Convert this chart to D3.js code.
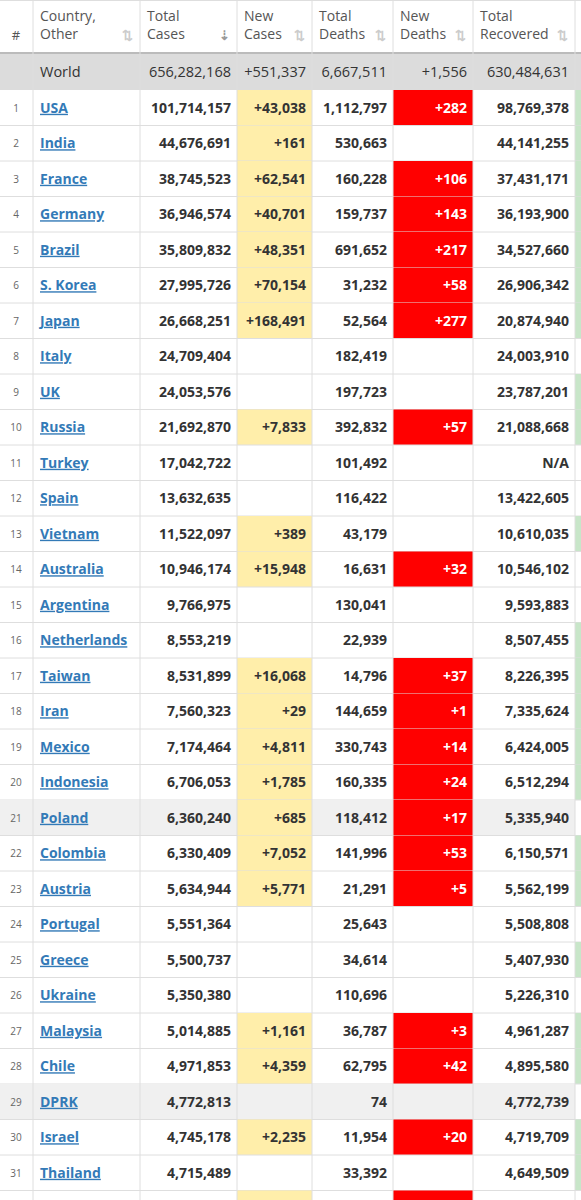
<!DOCTYPE html>
<html><head><meta charset="utf-8">
<script src="https://cdn.jsdelivr.net/npm/d3@7"></script>
<style>body{margin:0;background:#fff;}svg{display:block;font-family:"Open Sans",sans-serif;}</style>
</head><body><svg id="c" width="581" height="1200"></svg>
<script>
const headers=[["#"],["Country,","Other"],["Total","Cases"],["New","Cases"],["Total","Deaths"],["New","Deaths"],["Total","Recovered"],[""]];
const world=["","World","656,282,168","+551,337","6,667,511","+1,556","630,484,631"];
const countries=["USA","India","France","Germany","Brazil","S. Korea","Japan","Italy","UK","Russia","Turkey","Spain","Vietnam","Australia","Argentina","Netherlands","Taiwan","Iran","Mexico","Indonesia","Poland","Colombia","Austria","Portugal","Greece","Ukraine","Malaysia","Chile","DPRK","Israel","Thailand",""];
const totalCases=["101,714,157","44,676,691","38,745,523","36,946,574","35,809,832","27,995,726","26,668,251","24,709,404","24,053,576","21,692,870","17,042,722","13,632,635","11,522,097","10,946,174","9,766,975","8,553,219","8,531,899","7,560,323","7,174,464","6,706,053","6,360,240","6,330,409","5,634,944","5,551,364","5,500,737","5,350,380","5,014,885","4,971,853","4,772,813","4,745,178","4,715,489",""];
const newCases=["+43,038","+161","+62,541","+40,701","+48,351","+70,154","+168,491","","","+7,833","","","+389","+15,948","","","+16,068","+29","+4,811","+1,785","+685","+7,052","+5,771","","","","+1,161","+4,359","","+2,235","","+"];
const totalDeaths=["1,112,797","530,663","160,228","159,737","691,652","31,232","52,564","182,419","197,723","392,832","101,492","116,422","43,179","16,631","130,041","22,939","14,796","144,659","330,743","160,335","118,412","141,996","21,291","25,643","34,614","110,696","36,787","62,795","74","11,954","33,392",""];
const newDeaths=["+282","","+106","+143","+217","+58","+277","","","+57","","","","+32","","","+37","+1","+14","+24","+17","+53","+5","","","","+3","+42","","+20","","+"];
const totalRecovered=["98,769,378","44,141,255","37,431,171","36,193,900","34,527,660","26,906,342","20,874,940","24,003,910","23,787,201","21,088,668","N/A","13,422,605","10,610,035","10,546,102","9,593,883","8,507,455","8,226,395","7,335,624","6,424,005","6,512,294","5,335,940","6,150,571","5,562,199","5,508,808","5,407,930","5,226,310","4,961,287","4,895,580","4,772,739","4,719,709","4,649,509",""];
const newRecovered=[1,1,1,1,1,1,1,0,1,1,0,0,1,0,0,1,1,1,1,1,0,1,1,0,1,0,1,1,0,1,1,0];
const greyRows=["Poland","DPRK"];

const colEdges=[0,33,140,237,312,393,473,575,581];
const svg=d3.select("#c");
const headH=53, worldH=37, rowH=35.5;
const y=i=>headH+worldH+i*rowH;
const bcol="#dedede";

headers.forEach((h,j)=>{
  const x0=colEdges[j],x1=colEdges[j+1];
  if(j>0&&j<7){
    h.forEach((t,k)=>svg.append("text").attr("x",x0+7).attr("y",21+k*18).attr("font-size",14).attr("fill","#555").text(t));
    svg.append("text").attr("x",x1-7).attr("y",40).attr("text-anchor","end").attr("font-size",13).attr("fill",j==2?"#999":"#ccc").attr("font-weight","bold").text(j==2?"⇣":"⇅");
  } else if(j==0){
    svg.append("text").attr("x",16).attr("y",40).attr("text-anchor","middle").attr("font-size",13).attr("fill","#555").text("#");
  }
});
svg.append("rect").attr("x",0).attr("y",headH).attr("width",581).attr("height",worldH).attr("fill","#dcdcdc");
svg.append("line").attr("x1",0).attr("x2",581).attr("y1",headH).attr("y2",headH).attr("stroke","#bbb").attr("stroke-width",2);
world.forEach((t,j)=>{
  if(!t)return;
  const x0=colEdges[j],x1=colEdges[j+1];
  svg.append("text").attr("x",j==1?x0+7:x1-6).attr("y",headH+worldH/2+5).attr("text-anchor",j==1?"start":"end").attr("font-size",14.5).attr("fill","#333").text(t);
});
countries.forEach((c,i)=>{
  const y0=y(i);
  if(greyRows.includes(c))svg.append("rect").attr("x",0).attr("y",y0).attr("width",575).attr("height",rowH).attr("fill","#f0f0f0");
  if(newCases[i])svg.append("rect").attr("x",colEdges[3]).attr("y",y0).attr("width",colEdges[4]-colEdges[3]).attr("height",rowH).attr("fill","#ffeeaa");
  if(newDeaths[i])svg.append("rect").attr("x",colEdges[5]).attr("y",y0).attr("width",colEdges[6]-colEdges[5]).attr("height",rowH).attr("fill","#ff0000");
  if(newRecovered[i])svg.append("rect").attr("x",575).attr("y",y0).attr("width",6).attr("height",rowH).attr("fill","#c8e6c9");
  const ty=y0+rowH/2+5;
  if(c){
    svg.append("text").attr("x",16).attr("y",ty-1).attr("text-anchor","middle").attr("font-size",10).attr("fill","#666").text(i+1);
    svg.append("text").attr("x",40).attr("y",ty).attr("font-size",14).attr("font-weight","bold").attr("fill","#337ab7").attr("text-decoration","underline").text(c);
  }
  const vals=[totalCases[i],newCases[i],totalDeaths[i],newDeaths[i],totalRecovered[i]];
  vals.forEach((v,k)=>{
    if(!v||v=="+")return;
    const j=k+2;
    svg.append("text").attr("x",colEdges[j+1]-6).attr("y",ty).attr("text-anchor","end").attr("font-size",14).attr("font-weight","bold").attr("fill",k==3?"#fff":"#333").text(v);
  });
  svg.append("line").attr("x1",0).attr("x2",581).attr("y1",y0+rowH).attr("y2",y0+rowH).attr("stroke",bcol);
});
colEdges.slice(1,8).forEach(x=>svg.append("line").attr("x1",x).attr("x2",x).attr("y1",0).attr("y2",1200).attr("stroke",bcol));
svg.append("line").attr("x1",0).attr("x2",581).attr("y1",0.5).attr("y2",0.5).attr("stroke",bcol);
</script></body></html>
